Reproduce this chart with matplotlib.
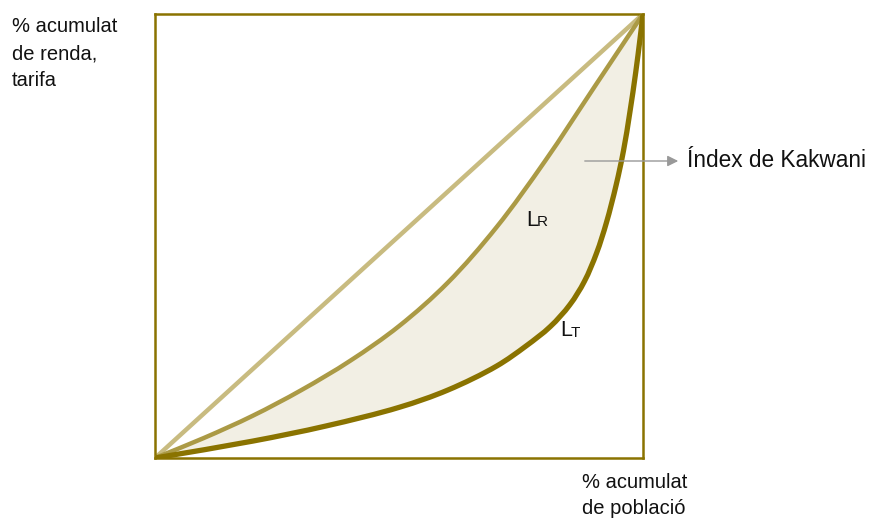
import matplotlib
matplotlib.use("Agg")
import matplotlib.pyplot as plt
from matplotlib.path import Path
from matplotlib.patches import PathPatch, FancyArrowPatch

plt.rcParams['font.family'] = ['Liberation Sans', 'DejaVu Sans']

# Data (cumulative population share vs cumulative income / tariff share)
diag_x = [0.0, 1.0]
diag_y = [0.0, 1.0]

lr_x = [0.0, 0.1, 0.2, 0.3, 0.4, 0.5, 0.6, 0.7, 0.8, 0.9, 1.0]
lr_y = [0.0, 0.045, 0.095, 0.153, 0.219, 0.297, 0.395, 0.520, 0.670, 0.835, 1.0]

lt_x = [0.0, 0.2, 0.35, 0.5, 0.6, 0.7, 0.76, 0.81, 0.85, 0.88, 0.905, 0.925, 0.945, 0.96, 0.973, 0.985, 0.994, 1.0]
lt_y = [0.0, 0.038, 0.072, 0.114, 0.153, 0.207, 0.252, 0.296, 0.345, 0.398, 0.462, 0.530, 0.615, 0.692, 0.778, 0.868, 0.945, 1.0]

W, H = 869, 518
AX_L, AX_R, AX_T, AX_B = 155, 643, 14, 458
SX, SY = AX_R - AX_L, AX_B - AX_T   # pixel scale, used only for curve smoothing


def smooth_segments(xs, ys, alpha=0.5):
    """Centripetal Catmull-Rom -> cubic Bezier control points through the points."""
    pts = list(zip(xs, ys))
    n = len(pts)

    def dist(a, b):
        return (((a[0] - b[0]) * SX) ** 2 + ((a[1] - b[1]) * SY) ** 2) ** 0.5

    segs = []
    for i in range(n - 1):
        p1, p2 = pts[i], pts[i + 1]
        p0 = pts[i - 1] if i > 0 else (2 * p1[0] - p2[0], 2 * p1[1] - p2[1])
        p3 = pts[i + 2] if i + 2 < n else (2 * p2[0] - p1[0], 2 * p2[1] - p1[1])
        d1 = dist(p0, p1) ** alpha
        d2 = dist(p1, p2) ** alpha
        d3 = dist(p2, p3) ** alpha
        b1 = tuple((d1 ** 2 * p2[k] - d2 ** 2 * p0[k] + (2 * d1 ** 2 + 3 * d1 * d2 + d2 ** 2) * p1[k])
                   / (3 * d1 * (d1 + d2)) for k in range(2))
        b2 = tuple((d3 ** 2 * p1[k] - d2 ** 2 * p3[k] + (2 * d3 ** 2 + 3 * d3 * d2 + d2 ** 2) * p2[k])
                   / (3 * d3 * (d3 + d2)) for k in range(2))
        segs.append((p1, b1, b2, p2))
    return segs


def segs_to_path(segs, start=True):
    verts, codes = [], []
    for k, (p1, c1, c2, p2) in enumerate(segs):
        if k == 0 and start:
            verts.append(p1)
            codes.append(Path.MOVETO)
        verts += [c1, c2, p2]
        codes += [Path.CURVE4] * 3
    return verts, codes


fig = plt.figure(figsize=(W / 100, H / 100), dpi=100)
ax = fig.add_axes([AX_L / W, 1 - AX_B / H, SX / W, SY / H])
ax.set_xlim(0, 1)
ax.set_ylim(0, 1)
ax.set_xticks([])
ax.set_yticks([])
for s in ax.spines.values():
    s.set_color('#8a7300')
    s.set_linewidth(1.8)

lr_segs = smooth_segments(lr_x, lr_y)
lt_segs = smooth_segments(lt_x, lt_y)

# filled area between the two curves
v1, c1 = segs_to_path(lr_segs)
rev = [(p2, cc2, cc1, p1) for (p1, cc1, cc2, p2) in lt_segs[::-1]]
v2, c2 = segs_to_path(rev, start=False)
fill_path = Path(v1 + v2 + [v1[0]], c1 + c2 + [Path.CLOSEPOLY])
ax.add_patch(PathPatch(fill_path, facecolor='#f2efe4', edgecolor='none', zorder=1))

ax.plot(diag_x, diag_y, color='#c8bb80', lw=3.2, solid_capstyle='butt', zorder=2)

v, c = segs_to_path(lr_segs)
ax.add_patch(PathPatch(Path(v, c), facecolor='none', edgecolor='#ab9a45', lw=3.2, zorder=3))
v, c = segs_to_path(lt_segs)
ax.add_patch(PathPatch(Path(v, c), facecolor='none', edgecolor='#8a7300', lw=3.8, zorder=4))


def fx(px):
    return px / W


def fy(py):
    return 1 - py / H


fs = 14.5
fig.text(fx(12), fy(17), "% acumulat\nde renda,\ntarifa", ha='left', va='top',
         fontsize=fs, color='#111111', linespacing=1.55)
fig.text(fx(582), fy(473), "% acumulat\nde població", ha='left', va='top',
         fontsize=fs, color='#111111', linespacing=1.45)
fig.text(fx(687), fy(161), "Índex de Kakwani", ha='left', va='center',
         fontsize=16.3, color='#111111')

fig.add_artist(FancyArrowPatch(
    (fx(582), fy(161)), (fx(681), fy(161)), transform=fig.transFigure,
    arrowstyle='-|>', mutation_scale=16, color='#999999', lw=1.0))

fig.text(fx(526), fy(220), "L", ha='left', va='center', fontsize=15.5, color='#111111')
fig.text(fx(537), fy(222), "R", ha='left', va='center', fontsize=11, color='#111111')
fig.text(fx(560), fy(331), "L", ha='left', va='center', fontsize=15.5, color='#111111')
fig.text(fx(571), fy(333), "T", ha='left', va='center', fontsize=11, color='#111111')

fig.savefig("out.png", dpi=100)
